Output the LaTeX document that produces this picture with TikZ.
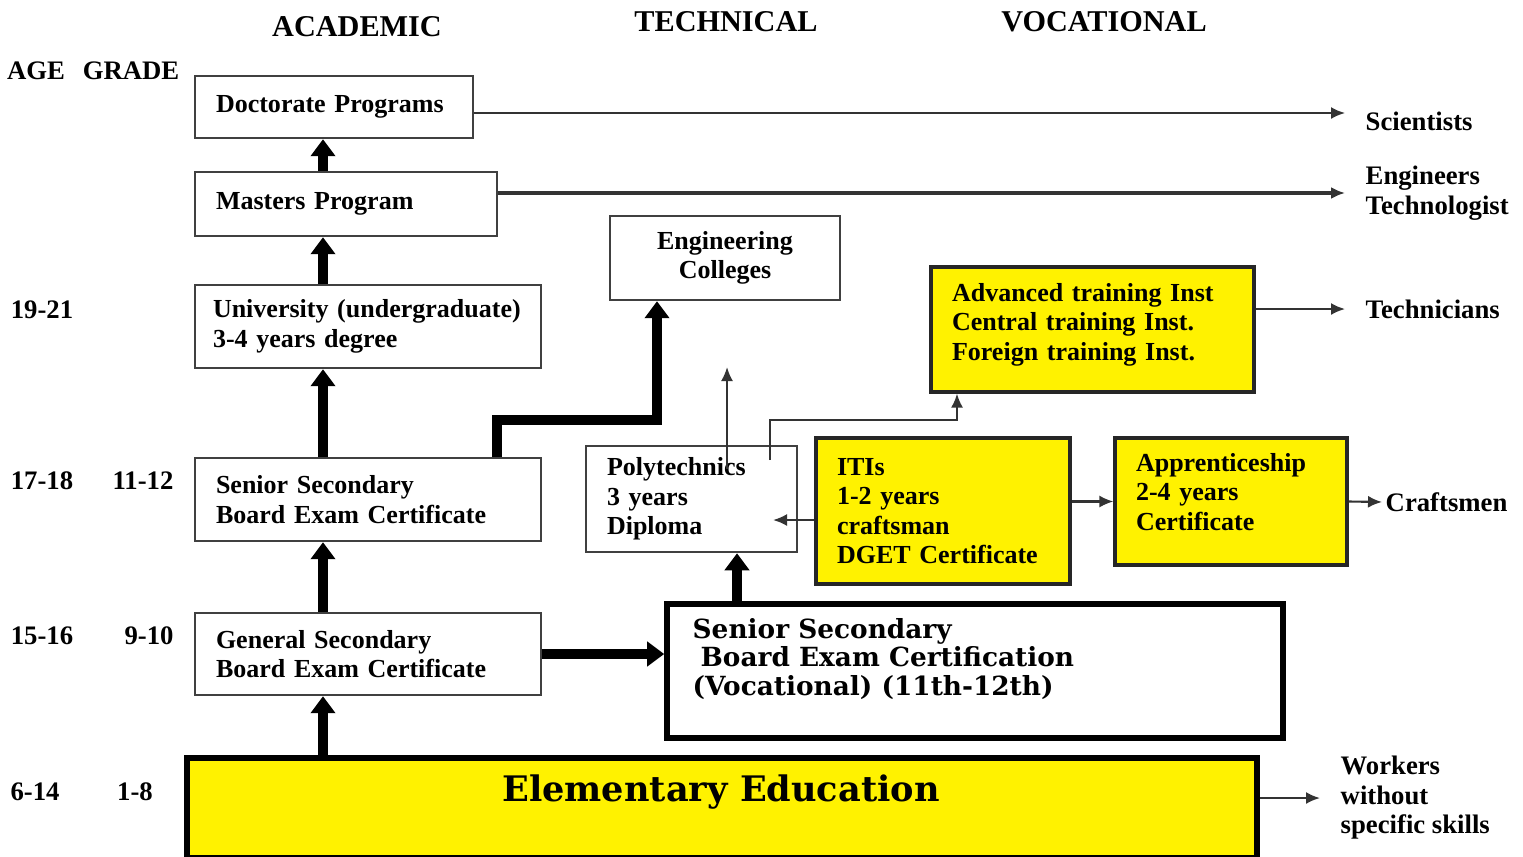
\documentclass[tikz,border=0pt]{standalone}
\usepackage{fontspec}
\setmainfont{Liberation Serif}
\newfontfamily\wideserif{DejaVu Serif}
\usetikzlibrary{arrows.meta}

\tikzset{
	box/.style={draw=black!75, line width=0.7pt, align=left, inner xsep=0.21cm, font=\fontsize{7.4}{8.4}\selectfont\bfseries},
	ybox/.style={box, fill=yellow, draw=black!85, line width=0.9pt},
	heavy/.style={draw=black, line width=1.6pt},
	head/.style={font=\fontsize{8.6}{10}\selectfont\bfseries},
	agetxt/.style={font=\fontsize{7.6}{9}\selectfont\bfseries},
	outtxt/.style={anchor=west, align=left, inner xsep=0.2cm, font=\fontsize{7.6}{8.4}\selectfont\bfseries},
	bigarr/.style={-{Triangle[width=0.24cm,length=0.17cm]}, line width=2.8pt},
	arr/.style={-{Latex[width=0.12cm,length=0.14cm]}, line width=0.6pt, draw=black!80},
}

\begin{document}
\begin{tikzpicture}[x=0.1cm, y=-0.1cm]
				\useasboundingbox (0,0) rectangle (152.3,85.6);
				
				\node[head] (hA) at (35.7, 2.7) {ACADEMIC};
				\node[head] (hT) at (72.6, 2.2) {TECHNICAL};
				\node[head] (hV) at (110.4, 2.2) {VOCATIONAL};
				
				\node[agetxt] (age) at (3.6, 7.1) {AGE};
				\node[agetxt] (grade) at (13.1, 7.1) {GRADE};
				\node[agetxt] (a1) at (4.2, 31.0) {19-21};
				\node[agetxt] (a2) at (4.2, 48.1) {17-18};
				\node[agetxt] (g2) at (14.3, 48.1) {11-12};
				\node[agetxt] (a3) at (4.2, 63.6) {15-16};
				\node[agetxt] (g3) at (14.9, 63.6) {9-10};
				\node[agetxt] (a4) at (3.5, 79.2) {6-14};
				\node[agetxt] (g4) at (13.5, 79.2) {1-8};
				
				% academic column
				\node[box, minimum width=2.78cm, minimum height=0.62cm, text width=2.36cm] (doc) at (33.4, 10.7) {Doctorate Programs};
				\node[box, minimum width=3.02cm, minimum height=0.64cm, text width=2.60cm] (mas) at (34.6, 20.4) {Masters Program};
				\node[box, inner xsep=0.18cm, minimum width=3.46cm, minimum height=0.83cm, text width=3.1cm] (uni) at (36.8, 32.65) {University (undergraduate)\\3-4 years degree};
				\node[box, minimum width=3.46cm, minimum height=0.83cm, text width=3.04cm] (ssc) at (36.8, 49.95) {Senior Secondary\\Board Exam Certificate};
				\node[box, minimum width=3.46cm, minimum height=0.82cm, text width=3.04cm] (gsc) at (36.8, 65.4) {General Secondary\\Board Exam Certificate};
				
				% technical column
				\node[box, align=center, minimum width=2.30cm, minimum height=0.84cm] (eng) at (72.5, 25.8) {Engineering\\Colleges};
				\node[box, minimum width=2.11cm, minimum height=1.04cm, text width=1.69cm] (poly) at (69.15, 49.9) {Polytechnics\\3 years\\Diploma};
				
				% vocational column
				\node[ybox, minimum width=3.23cm, minimum height=1.25cm, text width=2.81cm, text depth=0.75cm] (adv) at (109.25, 32.95) {Advanced training Inst\\Central training Inst.\\Foreign training Inst.};
				\node[ybox, minimum width=2.54cm, minimum height=1.46cm, text width=2.12cm] (iti) at (94.3, 51.1) {ITIs\\1-2 years\\craftsman\\DGET Certificate};
				\node[ybox, minimum width=2.32cm, minimum height=1.27cm, text width=1.90cm, text depth=0.79cm] (app) at (123.1, 50.15) {Apprenticeship\\2-4 years\\Certificate};
				
				\node[heavy, fill=white, minimum width=6.16cm, minimum height=1.34cm] (voc) at (97.5, 67.1) {};
				\node[anchor=west, align=left, inner sep=0pt, font=\wideserif\fontsize{7.5}{8.2}\selectfont\bfseries] (voctxt) at (69.2, 65.9) {Senior Secondary\\\hspace{0.08cm}Board Exam Certification\\(Vocational) (11th-12th)};
				
				\node[heavy, fill=yellow, minimum width=10.70cm, minimum height=1.00cm] (elem) at (72.2, 80.8) {};
				\node[inner sep=0pt, font=\wideserif\fontsize{10}{12}\selectfont\bfseries] (elemtxt) at (72.1, 79.2) {Elementary Education};
				
				% outcomes
				\node[outtxt] (sci) at (134.5, 12.1) {Scientists};
				\node[outtxt] (engr) at (134.5, 19.3) {Engineers\\Technologist};
				\node[outtxt] (tech) at (134.5, 30.9) {Technicians};
				\node[outtxt, inner xsep=0.03cm] (craft) at (138.2, 50.2) {Craftsmen};
				\node[outtxt] (work) at (132.0, 79.8) {Workers\\without\\specific skills};
				
				\coordinate (acol) at (32.3, 0);
				\coordinate (pcol) at (73.7, 0);
				\coordinate (bend) at (49.7, 42.0);
				\coordinate (engin) at (65.7, 42.0);
				\coordinate (polyin) at (77.3, 52.0);
				\coordinate (polyA) at (72.7, 46.9);
				\coordinate (polyup) at (72.7, 36.7);
				\coordinate (polyB) at (77.0, 46.0);
				\coordinate (advin) at (95.7, 42.0);
				
				\draw[bigarr] (mas.north -| acol) -- (doc.south -| acol);
				\draw[bigarr] (uni.north -| acol) -- (mas.south -| acol);
				\draw[bigarr] (ssc.north -| acol) -- (uni.south -| acol);
				\draw[bigarr] (gsc.north -| acol) -- (ssc.south -| acol);
				\draw[bigarr] (elem.north -| acol) -- (gsc.south -| acol);
				\draw[bigarr] (ssc.north -| bend) -- (bend) -- (engin) -- (eng.south -| engin);
				\draw[bigarr] (gsc.east) -- (gsc.east -| voc.west);
				\draw[bigarr] (voc.north -| pcol) -- (poly.south -| pcol);
				
				\draw[arr] ([yshift=-0.06cm]doc.east) -- ([yshift=-0.06cm]doc.east -| sci.west);
				\draw[arr, line width=1.4pt] (mas.east |- engr.west) -- (engr.west);
				\draw[arr] (adv.east |- tech.west) -- (tech.west);
				\draw[arr] (iti.east |- app.west) -- (app.west);
				\draw[arr] (app.east) -- (craft.west);
				\draw[arr] (elem.east |- work.west) -- (work.west);
				\draw[arr] (iti.west |- polyin) -- (polyin);
				\draw[arr] (polyA) -- (polyup);
				\draw[arr] (polyB) |- (advin) -- (adv.south -| advin);
				
\end{tikzpicture}
\end{document}
